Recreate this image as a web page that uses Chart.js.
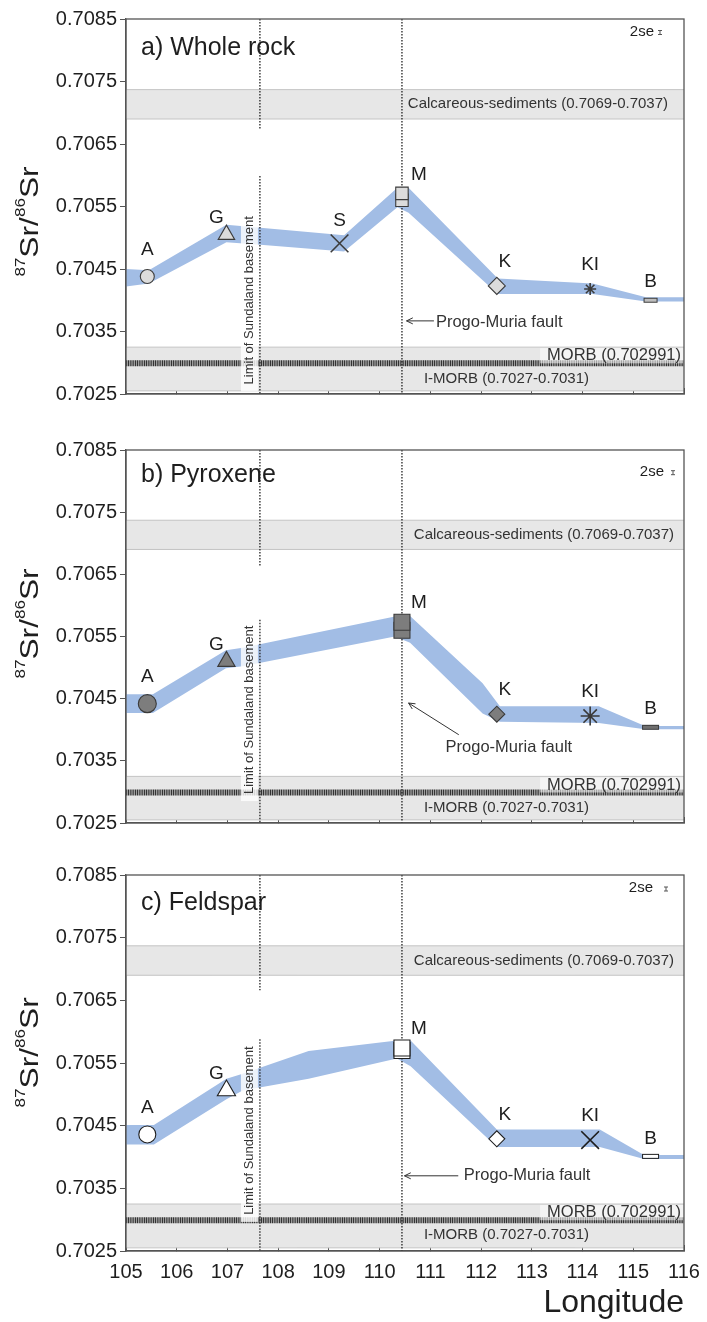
<!DOCTYPE html>
<html lang="en">
<head>
<meta charset="utf-8">
<title>87Sr/86Sr versus longitude</title>
<script src="https://cdn.jsdelivr.net/npm/chart.js@4.4.1/dist/chart.umd.min.js"></script>
<style>
  html, body { margin: 0; padding: 0; background: #fff; }
  #page { position: relative; width: 707px; height: 1322px; overflow: hidden; }
  #page canvas { position: absolute; left: 0; }
</style>
</head>
<body>
<div id="page">
  <canvas id="panel-a" width="707" height="420" style="top:0px"></canvas>
  <canvas id="panel-b" width="707" height="430" style="top:420px"></canvas>
  <canvas id="panel-c" width="707" height="472" style="top:850px"></canvas>
</div>
<script>
// Sr isotope ratios of the volcanic centres along the arc, plotted against longitude

const FONT = "'Liberation Sans', Arial, sans-serif";

// ---- axis ticks ----
const lonTicks = [105, 106, 107, 108, 109, 110, 111, 112, 113, 114, 115, 116];
const srTicks = [0.7025, 0.7035, 0.7045, 0.7055, 0.7065, 0.7075, 0.7085];

// ---- sample sites (west to east) ----
const sites = ['A', 'G', 'S', 'M', 'K', 'KI', 'B'];
const siteLon = [105.42, 106.98, 109.21, 110.44, 112.31, 114.15, 115.34];

// 87Sr/86Sr per site (null = no data)
const wholeRockSr = [0.70438, 0.70505, 0.70491, 0.70571, 0.70423, 0.70418, 0.70400];
const pyroxeneSr = [0.70442, 0.70510, null, 0.70573, 0.70425, 0.70422, 0.70404];
const feldsparSr = [0.70436, 0.70506, null, 0.70574, 0.70429, 0.70427, 0.70401];

// second analysis at M
const wholeRockMRep = 0.70560;
const pyroxeneMRep = 0.70560;
const feldsparMRep = 0.70570;

// blue envelope: longitude, upper and lower edge
const wholeRockBandLon = [105, 105.45, 106.98, 107.65, 109.3, 110.35, 110.57, 112.33, 114.2, 115.25, 116];
const wholeRockBandTop = [0.70450, 0.70448, 0.70521, 0.70516, 0.70504, 0.70580, 0.70580, 0.70435, 0.70427, 0.70405, 0.70405];
const wholeRockBandBot = [0.70422, 0.70427, 0.70493, 0.70489, 0.70478, 0.70549, 0.70540, 0.70410, 0.70410, 0.70398, 0.70398];

const pyroxeneBandLon = [105, 105.53, 106.97, 107.3, 110.3, 110.6, 112.03, 112.37, 114.32, 115.23, 116];
const pyroxeneBandTop = [0.70457, 0.70457, 0.70528, 0.70532, 0.70582, 0.70583, 0.70475, 0.70438, 0.70438, 0.70406, 0.70406];
const pyroxeneBandBot = [0.70427, 0.70427, 0.70499, 0.70502, 0.70550, 0.70540, 0.70426, 0.70413, 0.70411, 0.70401, 0.70401];

const feldsparBandLon = [105, 105.55, 106.98, 107.3, 108.6, 110.34, 110.61, 112.31, 114.34, 115.21, 116];
const feldsparBandTop = [0.70451, 0.70451, 0.70525, 0.70533, 0.70569, 0.70586, 0.70586, 0.70444, 0.70444, 0.70403, 0.70403];
const feldsparBandBot = [0.70420, 0.70420, 0.70492, 0.70506, 0.70525, 0.70557, 0.70545, 0.70416, 0.70416, 0.70397, 0.70397];

// reference reservoirs
const calcBand = [0.7069, 0.70737];
const morbBand = [0.70255, 0.70325];
const morbValue = 0.702991;

// structural boundaries
const sundalandLon = 107.64;
const progoLon = 110.44;

// ---- styling per panel ----
const BLUE = 'rgb(162, 189, 229)';
const BAND_GREY = '#e7e7e7';
const BAND_EDGE = '#c4c4c4';
const INK = '#1e1e1e';

const labelOffset = { A: [0, -27], G: [-10, -17], S: [0, -23], M: [17, -19], K: [8, -24], KI: [0, -24], B: [0, -18] };

const panels = [
  {
    id: 'panel-a', title: 'a) Whole rock', sr: wholeRockSr, mRep: wholeRockMRep,
    bandLon: wholeRockBandLon, bandTop: wholeRockBandTop, bandBot: wholeRockBandBot,
    padTop: 19, xAxisHeight: 26, showLon: false,
    fill: '#dcdcdc', edge: '#3c3c3c', barFill: '#bdbdbd', bar: [14, 5],
    radii: [7, 9.5, 12.5, 8.8, 8.5, 6, 5], kiStyle: 'star',
    titleDy: 29, seDy: 12.5, seRight: 654, seBarX: 660,
    yTitleAt: 0.70526, calcRight: 668, sundLabelAt: 0.70400, sundGap: [0.70674, 0.70599],
    progoTip: [110.53, 0.70367], progoTail: [111.07, 0.70367], progoText: [111.11, 0.70364]
  },
  {
    id: 'panel-b', title: 'b) Pyroxene', sr: pyroxeneSr, mRep: pyroxeneMRep,
    bandLon: pyroxeneBandLon, bandTop: pyroxeneBandTop, bandBot: pyroxeneBandBot,
    padTop: 30, xAxisHeight: 27, showLon: false,
    fill: '#7d7d7d', edge: '#3a3a3a', barFill: '#6f6f6f', bar: [17, 5],
    radii: [9, 10, 12.5, 11.3, 8, 9.5, 5], kiStyle: 'star',
    titleDy: 25, seDy: 21.7, seRight: 664, seBarX: 673,
    yTitleAt: 0.70571, calcRight: 674, sundLabelAt: 0.70432, sundGap: [0.70662, 0.70577],
    progoTip: [110.57, 0.70443], progoTail: [111.56, 0.70392], progoText: [111.3, 0.70371]
  },
  {
    id: 'panel-c', title: 'c) Feldspar', sr: feldsparSr, mRep: feldsparMRep,
    bandLon: feldsparBandLon, bandTop: feldsparBandTop, bandBot: feldsparBandBot,
    padTop: 25, xAxisHeight: 71, showLon: true,
    fill: '#ffffff', edge: '#1e1e1e', barFill: '#ffffff', bar: [17, 5],
    radii: [8.5, 10.5, 12.5, 11.3, 8, 12.5, 5], kiStyle: 'crossRot',
    titleDy: 28, seDy: 13, seRight: 653, seBarX: 666,
    yTitleAt: 0.70567, calcRight: 674, sundLabelAt: 0.70442, sundGap: [0.70666, 0.70588],
    progoTip: [110.49, 0.70370], progoTail: [111.55, 0.70370], progoText: [111.66, 0.70370]
  }
];

// small flat rectangle used for site B
function barMarker(w, h, fill, edge) {
  const c = document.createElement('canvas');
  c.width = w + 2;
  c.height = h + 2;
  const g = c.getContext('2d');
  g.fillStyle = fill;
  g.fillRect(1, 1, w, h);
  g.strokeStyle = edge;
  g.lineWidth = 1;
  g.strokeRect(1.5, 1.5, w - 1, h - 1);
  return c;
}

function levelLine(v, color, width) {
  return {
    data: [{ x: lonTicks[0], y: v }, { x: lonTicks[lonTicks.length - 1], y: v }],
    borderColor: color, borderWidth: width, pointRadius: 0, fill: false
  };
}

// 87Sr/86Sr axis title with superscripts
function drawSrTitle(ctx, cx, cy) {
  const parts = [['87', true], ['Sr', false], ['/', false], ['86', true], ['Sr', false]];
  const big = `26px ${FONT}`;
  const small = `14px ${FONT}`;
  let total = 0;
  const widths = parts.map(([t, sup]) => {
    ctx.font = sup ? small : big;
    const w = ctx.measureText(t).width;
    total += w;
    return w;
  });
  ctx.save();
  ctx.translate(cx, cy);
  ctx.rotate(-Math.PI / 2);
  ctx.scale(1.22, 1);
  ctx.textAlign = 'left';
  ctx.textBaseline = 'alphabetic';
  ctx.fillStyle = INK;
  let pos = -total / 2;
  parts.forEach(([t, sup], i) => {
    ctx.font = sup ? small : big;
    ctx.fillText(t, pos, sup ? -13 : 0);
    pos += widths[i];
  });
  ctx.restore();
}

function makeDecor(p) {
  return {
    id: 'decor',
    afterDatasetsDraw(chart) {
      const { ctx, chartArea: ca } = chart;
      const X = v => chart.scales.x.getPixelForValue(v);
      const Y = v => chart.scales.y.getPixelForValue(v);
      ctx.save();

      // MORB label, with light backing over the hatch
      ctx.font = `16.5px ${FONT}`;
      const morbTxt = `MORB (${morbValue})`;
      const mw = ctx.measureText(morbTxt).width;
      ctx.fillStyle = 'rgba(255,255,255,0.55)';
      ctx.fillRect(ca.right - mw - 10, Y(morbBand[1]) + 1, mw + 9, Y(morbValue) - Y(morbBand[1]) - 1);
      ctx.fillStyle = '#333';
      ctx.textAlign = 'right';
      ctx.textBaseline = 'middle';
      ctx.fillText(morbTxt, ca.right - 3, Y(0.70311));

      // I-MORB label
      ctx.font = `15px ${FONT}`;
      ctx.textAlign = 'center';
      ctx.fillText('I-MORB (0.7027-0.7031)', X(112.5), Y(0.70275));

      // calcareous sediments label
      ctx.textAlign = 'right';
      ctx.fillText('Calcareous-sediments (0.7069-0.7037)', p.calcRight, Y((calcBand[0] + calcBand[1]) / 2));

      // Sundaland basement label (rotated, white backing)
      const sText = 'Limit of Sundaland basement';
      ctx.font = `13px ${FONT}`;
      const sw = ctx.measureText(sText).width;
      const lx = X(sundalandLon) - 10;
      const ly = Y(p.sundLabelAt);
      ctx.fillStyle = 'rgba(255,255,255,0.8)';
      ctx.fillRect(lx - 9, ly - sw / 2 - 5, 17, sw + 12);
      ctx.save();
      ctx.translate(lx, ly);
      ctx.rotate(-Math.PI / 2);
      ctx.fillStyle = '#333';
      ctx.textAlign = 'center';
      ctx.textBaseline = 'middle';
      ctx.fillText(sText, 0, 0);
      ctx.restore();

      // Progo-Muria fault arrow
      const tx = X(p.progoTail[0]), ty = Y(p.progoTail[1]);
      const hx = X(p.progoTip[0]), hy = Y(p.progoTip[1]);
      const ang = Math.atan2(hy - ty, hx - tx);
      ctx.strokeStyle = '#333';
      ctx.lineWidth = 1;
      ctx.beginPath();
      ctx.moveTo(tx, ty);
      ctx.lineTo(hx, hy);
      ctx.moveTo(hx - 7 * Math.cos(ang - 0.45), hy - 7 * Math.sin(ang - 0.45));
      ctx.lineTo(hx, hy);
      ctx.lineTo(hx - 7 * Math.cos(ang + 0.45), hy - 7 * Math.sin(ang + 0.45));
      ctx.stroke();
      ctx.font = `16.5px ${FONT}`;
      ctx.fillStyle = '#333';
      ctx.textAlign = 'left';
      ctx.textBaseline = 'middle';
      ctx.fillText('Progo-Muria fault', X(p.progoText[0]), Y(p.progoText[1]));

      // site letters
      ctx.font = `19px ${FONT}`;
      ctx.fillStyle = INK;
      ctx.textAlign = 'center';
      sites.forEach((s, i) => {
        if (p.sr[i] == null) return;
        const [dx, dy] = labelOffset[s];
        ctx.fillText(s, X(siteLon[i]) + dx, Y(p.sr[i]) + dy);
      });

      // panel title
      ctx.font = `25px ${FONT}`;
      ctx.textAlign = 'left';
      ctx.fillText(p.title, 141, ca.top + p.titleDy);

      // 2se bar
      ctx.font = `15px ${FONT}`;
      ctx.textAlign = 'right';
      ctx.fillText('2se', p.seRight, ca.top + p.seDy);
      const sy = ca.top + p.seDy + 1;
      ctx.strokeStyle = '#555';
      ctx.beginPath();
      ctx.moveTo(p.seBarX, sy - 2); ctx.lineTo(p.seBarX, sy + 2);
      ctx.moveTo(p.seBarX - 2, sy - 2); ctx.lineTo(p.seBarX + 2, sy - 2);
      ctx.moveTo(p.seBarX - 2, sy + 2); ctx.lineTo(p.seBarX + 2, sy + 2);
      ctx.stroke();

      // frame
      ctx.strokeStyle = '#555';
      ctx.lineWidth = 1.3;
      ctx.strokeRect(ca.left, ca.top, ca.right - ca.left, ca.bottom - ca.top);

      ctx.restore();
      drawSrTitle(ctx, 38, Y(p.yTitleAt));
    }
  };
}

function buildPanel(p) {
  const styles = ['circle', 'triangle', 'crossRot', 'rect', 'rectRot', p.kiStyle,
    barMarker(p.bar[0], p.bar[1], p.barFill, p.edge)];
  const borderW = styles.map(s => (s === 'crossRot' || s === 'star') ? 1.6 : 1.1);

  const datasets = [
    levelLine(calcBand[0], BAND_EDGE, 1),
    Object.assign(levelLine(calcBand[1], BAND_EDGE, 1), { fill: '-1', backgroundColor: BAND_GREY }),
    levelLine(morbBand[0], BAND_EDGE, 1),
    Object.assign(levelLine(morbBand[1], BAND_EDGE, 1), { fill: '-1', backgroundColor: BAND_GREY }),
    {
      data: p.bandLon.map((x, i) => ({ x, y: p.bandBot[i] })),
      borderColor: 'rgba(0,0,0,0)', borderWidth: 0, pointRadius: 0, fill: false
    },
    {
      data: p.bandLon.map((x, i) => ({ x, y: p.bandTop[i] })),
      borderColor: 'rgba(0,0,0,0)', borderWidth: 0, pointRadius: 0, fill: '-1', backgroundColor: BLUE
    },
    Object.assign(levelLine(morbValue, '#333', 6), { borderDash: [1.2, 0.6] }),
    {
      data: [
        { x: sundalandLon, y: srTicks[srTicks.length - 1] }, { x: sundalandLon, y: p.sundGap[0] },
        { x: sundalandLon, y: null },
        { x: sundalandLon, y: p.sundGap[1] }, { x: sundalandLon, y: srTicks[0] }
      ],
      borderColor: '#222', borderWidth: 1.3, borderDash: [1.5, 1.5], pointRadius: 0, fill: false, spanGaps: false
    },
    {
      data: [{ x: progoLon, y: srTicks[srTicks.length - 1] }, { x: progoLon, y: srTicks[0] }],
      borderColor: '#222', borderWidth: 1.3, borderDash: [1.5, 1.5], pointRadius: 0, fill: false
    },
    {
      data: [{ x: siteLon[3], y: p.mRep }],
      showLine: false, pointStyle: 'rect', pointRadius: p.radii[3],
      pointBackgroundColor: p.fill, pointBorderColor: p.edge, pointBorderWidth: 1.1
    },
    {
      data: siteLon.map((x, i) => ({ x, y: p.sr[i] })),
      showLine: false, pointStyle: styles, pointRadius: p.radii,
      pointBackgroundColor: p.fill, pointBorderColor: p.edge, pointBorderWidth: borderW
    }
  ];
  // first dataset at the back, markers on top
  datasets.forEach((d, i) => { d.order = 100 - i; });

  return new Chart(document.getElementById(p.id), {
    type: 'line',
    data: { datasets },
    options: {
      responsive: false,
      animation: false,
      events: [],
      layout: { padding: { left: 0, right: 23, top: p.padTop, bottom: 0 } },
      plugins: {
        legend: { display: false },
        tooltip: { enabled: false },
        filler: { drawTime: 'beforeDatasetsDraw' }
      },
      scales: {
        x: {
          type: 'linear', min: lonTicks[0], max: lonTicks[lonTicks.length - 1],
          afterBuildTicks: s => { s.ticks = lonTicks.map(v => ({ value: v })); },
          afterFit: s => { s.height = p.xAxisHeight; s.paddingLeft = 0; s.paddingRight = 0; },
          grid: { drawOnChartArea: false, drawTicks: true, tickLength: -6, color: '#555', lineWidth: 1 },
          border: { color: '#555', width: 1.3 },
          ticks: { display: p.showLon, font: { size: 20, family: FONT }, color: INK, padding: 15, maxRotation: 0, autoSkip: false },
          title: { display: p.showLon, text: 'Longitude', align: 'end', font: { size: 32, family: FONT }, color: INK, padding: 0 }
        },
        y: {
          type: 'linear', min: srTicks[0], max: srTicks[srTicks.length - 1],
          afterBuildTicks: s => { s.ticks = srTicks.map(v => ({ value: v })); },
          afterFit: s => { s.width = 126; s.paddingTop = 0; s.paddingBottom = 0; },
          grid: { drawOnChartArea: false, drawTicks: true, tickLength: 6, color: '#555', lineWidth: 1 },
          border: { color: '#555', width: 1.3 },
          ticks: { font: { size: 20, family: FONT }, color: INK, padding: 3, callback: v => v.toFixed(4) }
        }
      }
    },
    plugins: [makeDecor(p)]
  });
}

panels.forEach(buildPanel);
</script>
</body>
</html>
